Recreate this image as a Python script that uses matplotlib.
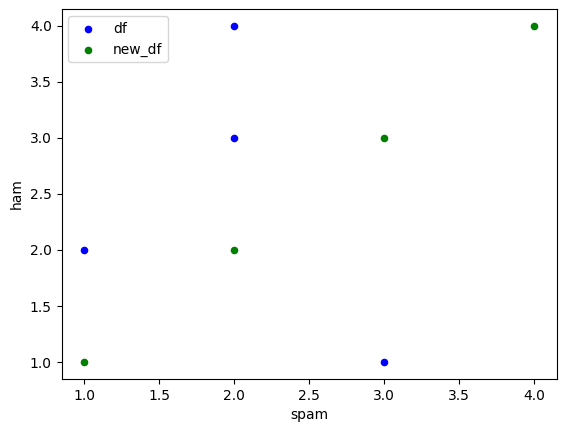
import matplotlib
matplotlib.use("Agg")
import matplotlib.pyplot as plt
import pandas as pd

# data
df_spam = [1, 2, 2, 3]
df_ham = [2, 4, 3, 1]
new_spam = [1, 2, 3, 4]
new_ham = [1, 2, 3, 4]

df = pd.DataFrame({"spam": df_spam, "ham": df_ham})
new_df = pd.DataFrame({"spam": new_spam, "ham": new_ham})

fig, ax = plt.subplots(figsize=(5.67, 4.32), dpi=100)
fig.subplots_adjust(left=0.1085, right=0.982, top=0.979, bottom=0.123)

df.plot.scatter(x="spam", y="ham", color="blue", label="df", ax=ax)
new_df.plot.scatter(x="spam", y="ham", color="green", label="new_df", ax=ax)

ax.legend(loc="upper left")
fig.savefig("out.png")
